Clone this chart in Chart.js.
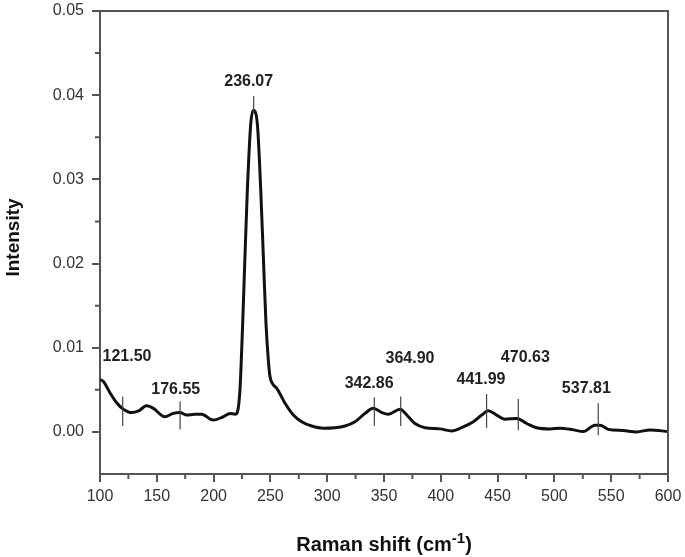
<!DOCTYPE html>
<html lang="en">
<head>
    <meta charset="UTF-8">
    <title>Raman spectrum</title>
    <script src="https://cdn.jsdelivr.net/npm/chart.js"></script>
    <style>
        body { margin: 0; background: #fff; }
        #wrap { width: 685px; height: 557px; }
    </style>
</head>
<body>
    <div id="wrap">
        <canvas id="ramanChart" width="685" height="557"></canvas>
    </div>

    <script>
        // spectrum
        const shift = [100, 103, 109, 115, 120.5, 128, 134, 141, 147, 157, 164.5, 170.5, 176, 183.5, 189.5,
            199.5, 208.5, 214.5, 219, 221, 223.2, 225.6, 227.6, 229.7, 232.7, 235, 238.5, 241.5, 243.8,
            246.1, 248.2, 249.6, 252, 255.5, 262.9, 270.2, 277.5, 286.3, 296.6, 306.9, 315.7, 324.5, 333.3,
            340.6, 348, 353.8, 364.1, 371.4, 377.3, 386.1, 399.3, 409.6, 418.3, 428.6, 436, 441.8, 449.1,
            456.5, 466.8, 475.6, 484.3, 496.1, 505, 516.7, 525.4, 535.7, 540, 547.5, 560.7, 572.4, 584.2, 600];
        const intensity = [0.0062, 0.006, 0.0046, 0.0034, 0.0027, 0.0023, 0.0025, 0.0031, 0.0028, 0.0018, 0.0022, 0.0023, 0.002, 0.0021, 0.0021,
            0.0014, 0.0018, 0.0022, 0.0021, 0.0024, 0.005, 0.0129, 0.0208, 0.0287, 0.0366, 0.0382, 0.0366, 0.0287, 0.0208,
            0.0129, 0.0085, 0.0066, 0.0057, 0.0052, 0.0034, 0.002, 0.0012, 0.0007, 0.00044, 0.0005, 0.0007, 0.0012, 0.0022,
            0.0028, 0.0023, 0.0021, 0.0027, 0.0018, 0.001, 0.0005, 0.00036, 0.00012, 0.0005, 0.0012, 0.002, 0.0025, 0.002,
            0.0015, 0.0016, 0.001, 0.0005, 0.00036, 0.00044, 0.00024, 0.00004, 0.0008, 0.0008, 0.0003, 0.00016, 0, 0.00024, 0.00004];

        // peak markers
        const peakText = ['121.50', '176.55', '236.07', '342.86', '364.90', '441.99', '470.63', '537.81'];
        const peakX = [120, 170.5, 235.3, 341.5, 364.7, 440.3, 468.2, 538.6];
        const peakLow = [0.0007, 0.0003, 0.038, 0.0007, 0.0007, 0.0005, 0.0002, -0.0004];
        const peakHigh = [0.0042, 0.0036, 0.0399, 0.0041, 0.0042, 0.0045, 0.0039, 0.0034];
        const labelX = [123.8, 166.7, 230.9, 336.9, 372.9, 435.4, 474.4, 528.1];
        const labelY = [0.0089, 0.005, 0.0416, 0.0057, 0.0087, 0.0062, 0.0088, 0.0051];

        // axes
        const xMajor = [100, 150, 200, 250, 300, 350, 400, 450, 500, 550, 600];
        const xMinor = [125, 175, 225, 275, 325, 375, 425, 475, 525, 575];
        const yMajor = [0, 0.01, 0.02, 0.03, 0.04, 0.05];
        const yMinor = [0.005, 0.015, 0.025, 0.035, 0.045];

        const axisColor = '#555';
        const fontFamily = '"Liberation Sans", Arial, sans-serif';

        const extras = {
            id: 'extras',
            afterDraw(chart) {
                const ctx = chart.ctx;
                const a = chart.chartArea;
                const x = chart.scales.x;
                const y = chart.scales.y;
                ctx.save();

                // box top and right
                ctx.strokeStyle = axisColor;
                ctx.lineWidth = 2;
                ctx.beginPath();
                ctx.moveTo(a.left - 1, a.top);
                ctx.lineTo(a.right, a.top);
                ctx.lineTo(a.right, a.bottom);
                ctx.stroke();

                // minor ticks
                ctx.beginPath();
                xMinor.forEach(v => {
                    const px = x.getPixelForValue(v);
                    ctx.moveTo(px, a.bottom);
                    ctx.lineTo(px, a.bottom + 5);
                });
                yMinor.forEach(v => {
                    const py = y.getPixelForValue(v);
                    ctx.moveTo(a.left, py);
                    ctx.lineTo(a.left - 5, py);
                });
                ctx.stroke();

                // peak markers
                ctx.strokeStyle = '#444';
                ctx.lineWidth = 1.2;
                ctx.beginPath();
                peakX.forEach((v, i) => {
                    const px = x.getPixelForValue(v);
                    ctx.moveTo(px, y.getPixelForValue(peakLow[i]));
                    ctx.lineTo(px, y.getPixelForValue(peakHigh[i]));
                });
                ctx.stroke();

                ctx.fillStyle = '#222';
                ctx.font = 'bold 16px ' + fontFamily;
                ctx.textAlign = 'center';
                ctx.textBaseline = 'middle';
                peakText.forEach((t, i) => {
                    ctx.fillText(t, x.getPixelForValue(labelX[i]), y.getPixelForValue(labelY[i]));
                });

                // axis titles
                ctx.fillStyle = '#111';
                ctx.save();
                ctx.translate(14, (a.top + a.bottom) / 2 - 5);
                ctx.rotate(-Math.PI / 2);
                ctx.font = 'bold 19px ' + fontFamily;
                ctx.fillText('Intensity', 0, 0);
                ctx.restore();

                const main = 'Raman shift (cm';
                const sup = '-1';
                const close = ')';
                ctx.textAlign = 'left';
                ctx.textBaseline = 'alphabetic';
                ctx.font = 'bold 20px ' + fontFamily;
                const w1 = ctx.measureText(main).width;
                const w3 = ctx.measureText(close).width;
                ctx.font = 'bold 15px ' + fontFamily;
                const w2 = ctx.measureText(sup).width;
                let sx = (a.left + a.right) / 2 - (w1 + w2 + w3) / 2;
                const base = a.bottom + 77;
                ctx.font = 'bold 20px ' + fontFamily;
                ctx.fillText(main, sx, base);
                ctx.font = 'bold 15px ' + fontFamily;
                ctx.fillText(sup, sx + w1, base - 8);
                ctx.font = 'bold 20px ' + fontFamily;
                ctx.fillText(close, sx + w1 + w2, base);

                ctx.restore();
            }
        };

        const points = shift.map((v, i) => ({ x: v, y: intensity[i] }));

        new Chart(document.getElementById('ramanChart').getContext('2d'), {
            type: 'line',
            data: {
                datasets: [{
                    data: points,
                    borderColor: '#111',
                    borderWidth: 3,
                    pointRadius: 0,
                    fill: false,
                    cubicInterpolationMode: 'monotone'
                }]
            },
            options: {
                responsive: false,
                animation: false,
                layout: { padding: { top: 11, right: 17, left: 0, bottom: 0 } },
                plugins: {
                    legend: { display: false },
                    tooltip: { enabled: false }
                },
                scales: {
                    x: {
                        type: 'linear',
                        min: 100,
                        max: 600,
                        afterFit: s => { s.height = 83; s.paddingLeft = 0; s.paddingRight = 0; },
                        afterBuildTicks: s => { s.ticks = xMajor.map(v => ({ value: v })); },
                        grid: { drawOnChartArea: false, drawTicks: true, tickLength: 8, color: axisColor, lineWidth: 2 },
                        border: { color: axisColor, width: 2 },
                        ticks: {
                            color: '#333',
                            padding: 5,
                            maxRotation: 0,
                            font: { family: fontFamily, size: 16 },
                            callback: v => String(v)
                        }
                    },
                    y: {
                        min: -0.005,
                        max: 0.05,
                        afterFit: s => { s.width = 100; s.paddingTop = 0; s.paddingBottom = 0; },
                        afterBuildTicks: s => { s.ticks = yMajor.map(v => ({ value: v })); },
                        grid: { drawOnChartArea: false, drawTicks: true, tickLength: 8, color: axisColor, lineWidth: 2 },
                        border: { color: axisColor, width: 2 },
                        ticks: {
                            color: '#333',
                            padding: 8,
                            font: { family: fontFamily, size: 16 },
                            callback: v => Number(v).toFixed(2)
                        }
                    }
                }
            },
            plugins: [extras]
        });
    </script>
</body>
</html>
